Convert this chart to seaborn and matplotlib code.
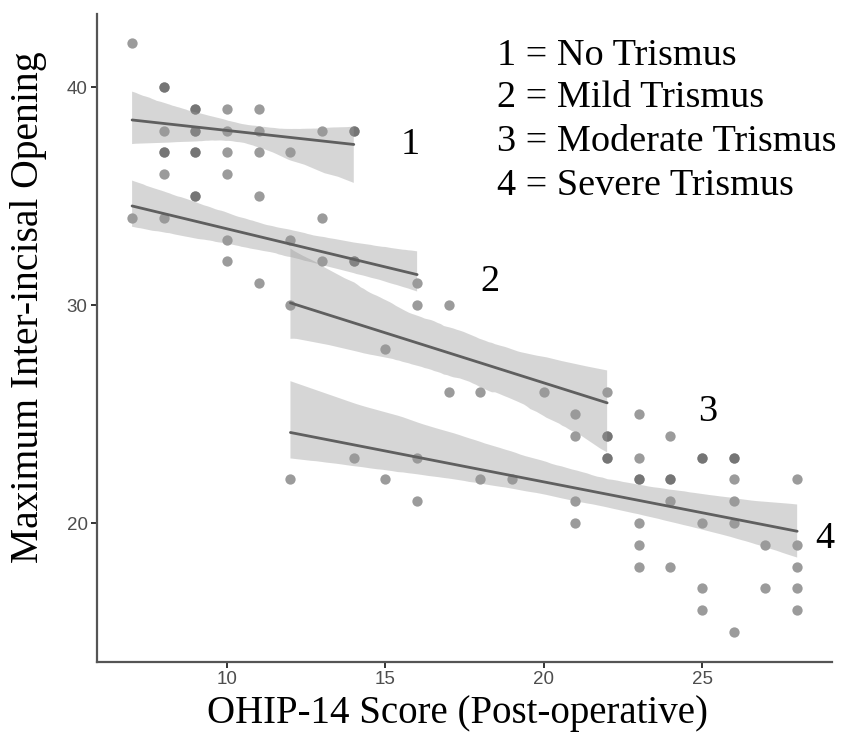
#!/usr/bin/env python3

from matplotlib import pyplot as plt
import pandas as pd
import seaborn as sns

# OHIP-14 score (x) and maximum inter-incisal opening (y), per trismus group
# (repeated pairs = overlapping points, which look darker in the original)
no_x = [7, 8, 8, 9, 9, 10, 11, 8, 9, 9, 10, 11, 13, 14, 14,
        8, 8, 9, 9, 10, 11, 12, 8, 10]
no_y = [42, 40, 40, 39, 39, 39, 39, 38, 38, 38, 38, 38, 38, 38, 38,
        37, 37, 37, 37, 37, 37, 37, 36, 36]

mild_x = [9, 9, 11, 7, 8, 13, 10, 12, 10, 13, 14, 14, 11, 16]
mild_y = [35, 35, 35, 34, 34, 34, 33, 33, 32, 32, 32, 32, 31, 31]

mod_x = [12, 16, 17, 15, 17, 18, 20, 22]
mod_y = [30, 30, 30, 28, 26, 26, 26, 26]

sev_x = [21, 23, 21, 22, 22, 24, 14, 16, 22, 22, 23, 25, 25, 26, 26,
         12, 15, 18, 19, 23, 23, 24, 24, 26, 28, 16, 21, 24, 26,
         21, 23, 25, 26, 23, 27, 28, 23, 24, 28, 25, 27, 28, 25, 28, 26]
sev_y = [25, 25, 24, 24, 24, 24, 23, 23, 23, 23, 23, 23, 23, 23, 23,
         22, 22, 22, 22, 22, 22, 22, 22, 22, 22, 21, 21, 21, 21,
         20, 20, 20, 20, 19, 19, 19, 18, 18, 18, 17, 17, 17, 16, 16, 15]

groups = ['1', '2', '3', '4']
legend_lines = ['1 = No Trismus', '2 = Mild Trismus',
                '3 = Moderate Trismus', '4 = Severe Trismus']

df = pd.concat([
    pd.DataFrame({'ohip': no_x, 'mio': no_y, 'group': '1'}),
    pd.DataFrame({'ohip': mild_x, 'mio': mild_y, 'group': '2'}),
    pd.DataFrame({'ohip': mod_x, 'mio': mod_y, 'group': '3'}),
    pd.DataFrame({'ohip': sev_x, 'mio': sev_y, 'group': '4'}),
], ignore_index=True)

sns.set_style('ticks')
plt.rcParams['font.family'] = ['Liberation Serif', 'DejaVu Serif']
plt.rcParams['text.color'] = 'black'

fig = plt.figure(figsize=(8.45, 7.33), dpi=100)
ax = fig.add_axes([0.1151, 0.0975, 0.8695, 0.8834])

sns.scatterplot(data=df, x='ohip', y='mio', color='#5e5e5e', alpha=0.62,
                s=55, linewidth=0, ax=ax, legend=False)

for g in groups:
    sub = df[df['group'] == g]
    n_before = len(ax.collections)
    sns.regplot(data=sub, x='ohip', y='mio', scatter=False, ci=95, seed=3,
                color='#5f5f5f', line_kws={'linewidth': 2.0}, ax=ax)
    for coll in ax.collections[n_before:]:
        coll.set_facecolor('#9a9a9a')
        coll.set_alpha(0.4)
        coll.set_edgecolor('none')

ax.set_xlim(5.9, 29.1)
ax.set_ylim(13.65, 43.35)
ax.set_xticks([10, 15, 20, 25])
ax.set_yticks([20, 30, 40])

sns.despine(ax=ax)
for side in ['left', 'bottom']:
    ax.spines[side].set_color('#555555')
    ax.spines[side].set_linewidth(1.6)
ax.tick_params(axis='both', length=4, width=1.4, color='#333333',
               labelsize=13.5, labelcolor='#4d4d4d', pad=3)
for lab in ax.get_xticklabels() + ax.get_yticklabels():
    lab.set_family('Liberation Sans')

ax.set_xlabel('OHIP-14 Score (Post-operative)', fontsize=28, color='black')
ax.set_ylabel('Maximum Inter-incisal Opening', fontsize=28.5, color='black')
ax.xaxis.set_label_coords(0.49, -0.052)
ax.yaxis.set_label_coords(-0.068, 0.547)

legend_y = [0.921, 0.856, 0.789, 0.7205]
for txt, yy in zip(legend_lines, legend_y):
    ax.text(0.544, yy, txt, transform=ax.transAxes, fontsize=27.5,
            ha='left', va='baseline', color='black')

num_pos = [(0.4256, 0.784), (0.5345, 0.572), (0.831, 0.371), (0.990, 0.175)]
for g, (xx, yy) in zip(groups, num_pos):
    ax.text(xx, yy, g, transform=ax.transAxes, fontsize=27.5,
            ha='center', va='baseline', color='black')

plt.savefig('out.png', dpi=100)
